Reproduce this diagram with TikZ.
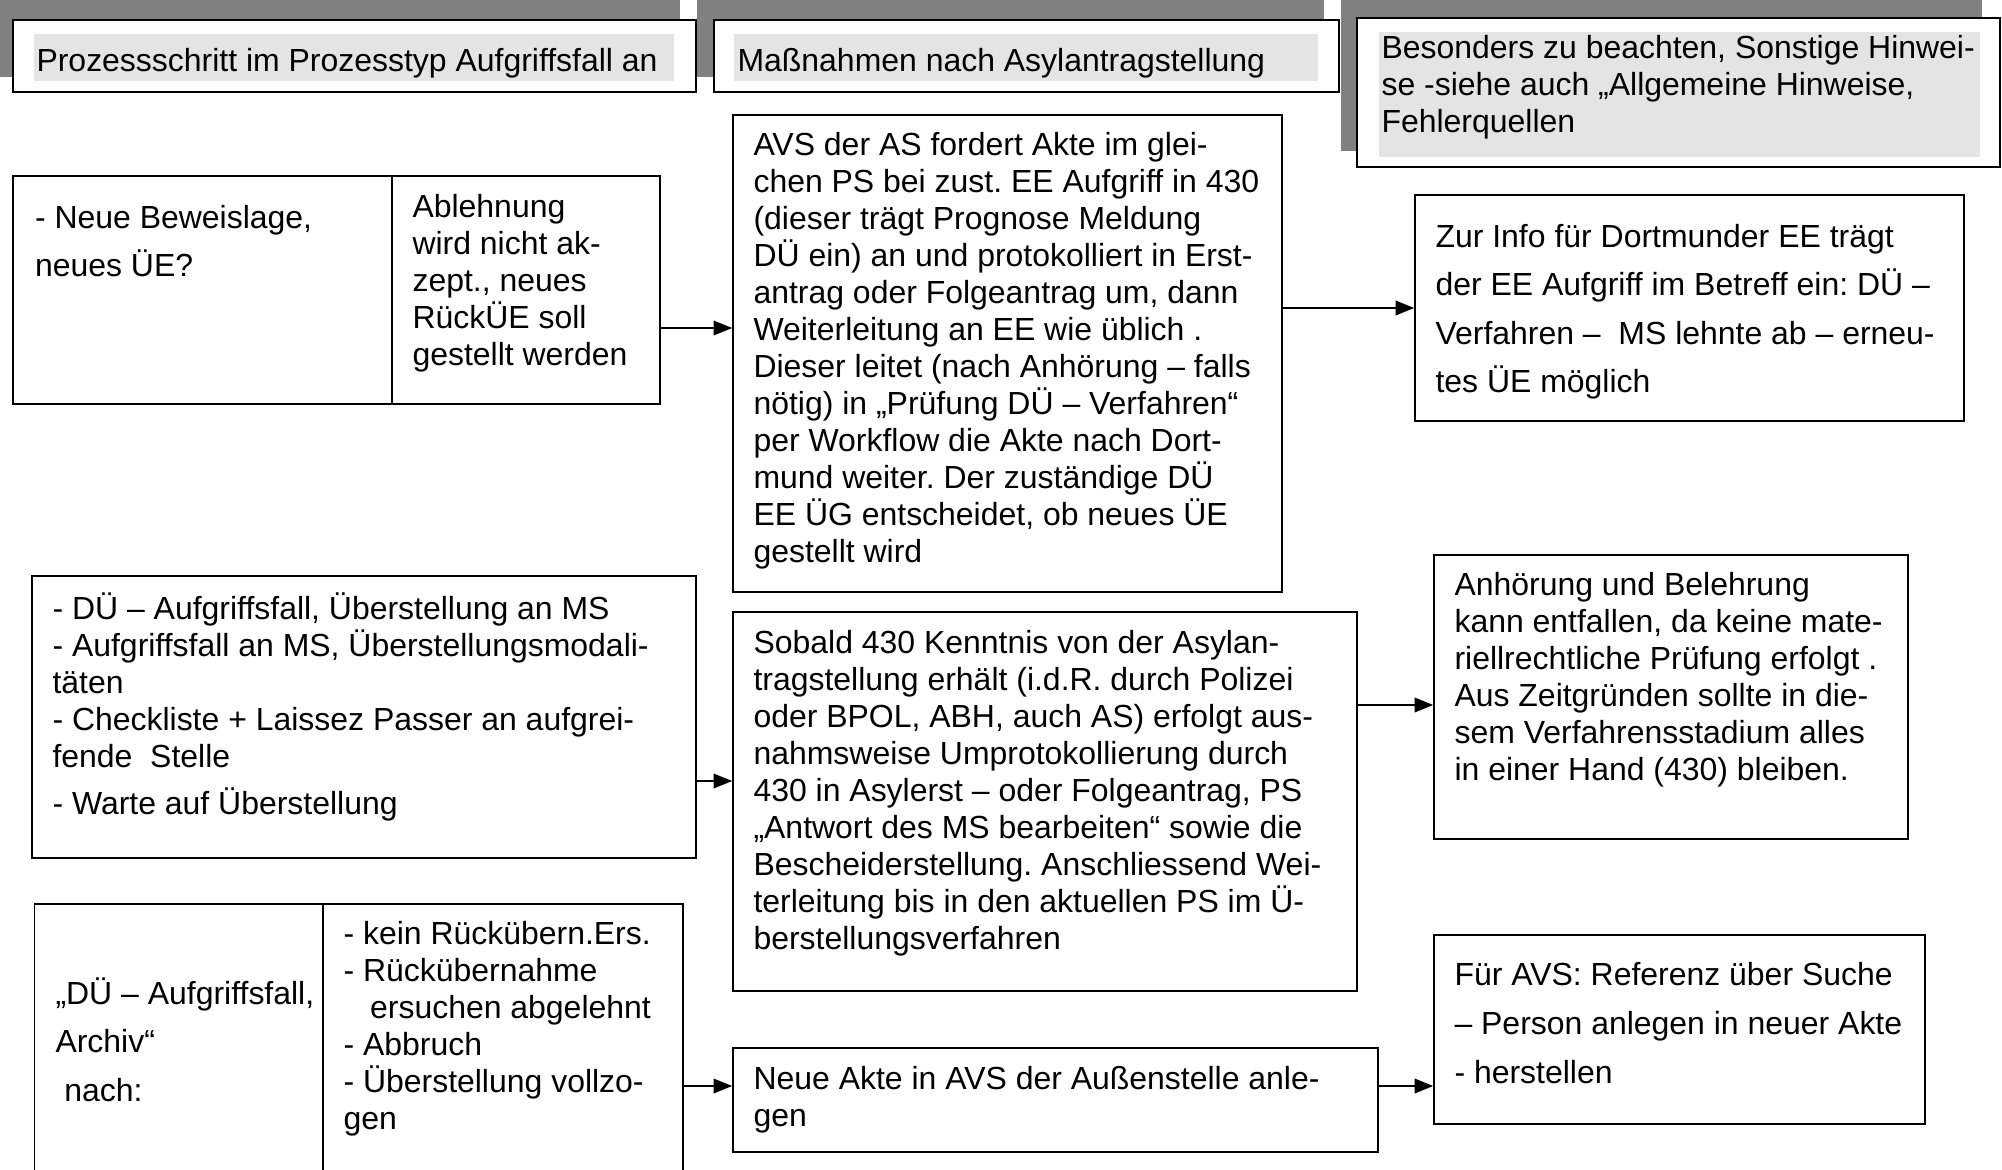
\documentclass[tikz,border=0pt]{standalone}
\usepackage{fontspec}
\setmainfont{Liberation Sans}
\usetikzlibrary{fit,arrows.meta}
\definecolor{kopfschatten}{HTML}{808080}
\definecolor{kopffill}{HTML}{E4E4E4}
\frenchspacing

\begin{document}
\begin{tikzpicture}[x=0.0132cm, y=-0.0132cm,
    box/.style={draw=black, line width=0.6pt, inner sep=0pt, fill=white},
    txt/.style={inner sep=0pt, anchor=north west, align=left,
      font=\fontsize{12}{13.9}\selectfont, execute at begin node=\rule{0pt}{11.5pt}},
    wide/.style={font=\fontsize{12}{18.2}\selectfont},
    arr/.style={line width=0.6pt, -{Triangle[length=7pt,width=5.5pt]}}]
  \useasboundingbox (0,0) rectangle (2002,1169);
  \clip (0,0) rectangle (2002,1169);

  % Spaltenkoepfe
  \fill[kopfschatten] (0,0) rectangle (680,77);
  \node[box, fit={(13,20) (696,92)}] (kopf1) {};
  \fill[kopffill] (34,34) rectangle (674,81);
  \node[txt] (kopf1text) at (36,40.5) {Prozessschritt im Prozesstyp Aufgriffsfall an};

  \fill[kopfschatten] (697,0) rectangle (1324,77);
  \node[box, fit={(714,20) (1339,92)}] (kopf2) {};
  \fill[kopffill] (734,34) rectangle (1318,81);
  \node[txt] (kopf2text) at (737,40.5) {Maßnahmen nach Asylantragstellung};

  \fill[kopfschatten] (1341,0) rectangle (1982,151);
  \node[box, fit={(1357,18) (2000,167)}] (kopf3) {};
  \fill[kopffill] (1379,32) rectangle (1980,157);
  \node[txt] (kopf3text) at (1381,34.5) {Besonders zu beachten, Sonstige Hinwei-\\se -siehe auch „Allgemeine Hinweise,\\Fehlerquellen};

  % erste Reihe
  \node[box, fit={(13,176) (392,404)}] (neue) {};
  \node[box, fit={(392,176) (660,404)}] (ablehn) {};
  \node[txt, wide] at (34.5,204.5) {- Neue Beweislage,\\neues ÜE?};
  \node[txt] at (412,194) {Ablehnung\\wird nicht ak-\\zept., neues\\RückÜE soll\\gestellt werden};

  \node[box, fit={(733,115) (1282,592)}] (avs) {};
  \node[txt] at (753,131.5) {AVS der AS fordert Akte im glei-\\
    chen PS bei zust. EE Aufgriff in 430\\
    (dieser trägt Prognose Meldung\\
    DÜ ein) an und protokolliert in Erst-\\
    antrag oder Folgeantrag um, dann\\
    Weiterleitung an EE wie üblich .\\
    Dieser leitet (nach Anhörung – falls\\
    nötig) in „Prüfung DÜ – Verfahren“\\
    per Workflow die Akte nach Dort-\\
    mund weiter. Der zuständige DÜ\\
    EE ÜG entscheidet, ob neues ÜE\\
    gestellt wird};

  \node[box, fit={(1415,195) (1964,421)}] (dortmund) {};
  \node[txt, wide] at (1435,223.5) {Zur Info für Dortmunder EE trägt\\
    der EE Aufgriff im Betreff ein: DÜ –\\
    Verfahren –\ \ MS lehnte ab – erneu-\\
    tes ÜE möglich};

  % zweite Reihe
  \node[box, fit={(32,576) (696,858)}] (ueberst) {};
  \node[txt] at (52,592) {- DÜ – Aufgriffsfall, Überstellung an MS\\
    - Aufgriffsfall an MS, Überstellungsmodali-\\
    täten\\
    - Checkliste + Laissez Passer an aufgrei-\\
    fende\ \ Stelle\\[3.9pt]
    - Warte auf Überstellung};

  \node[box, fit={(733,612) (1357,991)}] (sobald) {};
  \node[txt] at (753,629.5) {Sobald 430 Kenntnis von der Asylan-\\
    tragstellung erhält (i.d.R. durch Polizei\\
    oder BPOL, ABH, auch AS) erfolgt aus-\\
    nahmsweise Umprotokollierung durch\\
    430 in Asylerst – oder Folgeantrag, PS\\
    „Antwort des MS bearbeiten“ sowie die\\
    Bescheiderstellung. Anschliessend Wei-\\
    terleitung bis in den aktuellen PS im Ü-\\
    berstellungsverfahren};

  \node[box, fit={(1434,555) (1908,839)}] (anhoerung) {};
  \node[txt] at (1454,572) {Anhörung und Belehrung\\
    kann entfallen, da keine mate-\\
    riellrechtliche Prüfung erfolgt .\\
    Aus Zeitgründen sollte in die-\\
    sem Verfahrensstadium alles\\
    in einer Hand (430) bleiben.};

  % dritte Reihe
  \node[box, fit={(34.5,904) (323,1200)}] (archiv) {};
  \node[box, fit={(323,904) (683,1200)}] (gruende) {};
  \node[txt, wide] at (55,977) {„DÜ – Aufgriffsfall,\\Archiv“\\\hspace*{3.3pt}nach:};
  \node[txt] at (343,920.5) {- kein Rückübern.Ers.\\
    - Rückübernahme\\
    \hspace*{10pt}ersuchen abgelehnt\\
    - Abbruch\\
    - Überstellung vollzo-\\
    gen};

  \node[box, fit={(733,1048) (1378,1152)}] (neuakte) {};
  \node[txt] at (753,1066) {Neue Akte in AVS der Außenstelle anle-\\gen};

  \node[box, fit={(1434,935) (1925,1124)}] (referenz) {};
  \node[txt, font=\fontsize{12}{18.4}\selectfont] at (1454,961.5) {Für AVS: Referenz über Suche\\
    – Person anlegen in neuer Akte\\
    - herstellen};

  % Pfeile
  \draw[arr] (ablehn.east |- 0,328) -- (avs.west |- 0,328);
  \draw[arr] (avs.east |- 0,308) -- (dortmund.west |- 0,308);
  \draw[arr] (ueberst.east |- 0,781) -- (sobald.west |- 0,781);
  \draw[arr] (sobald.east |- 0,705) -- (anhoerung.west |- 0,705);
  \draw[arr] (gruende.east |- 0,1086) -- (neuakte.west |- 0,1086);
  \draw[arr] (neuakte.east |- 0,1086) -- (referenz.west |- 0,1086);
\end{tikzpicture}
\end{document}
